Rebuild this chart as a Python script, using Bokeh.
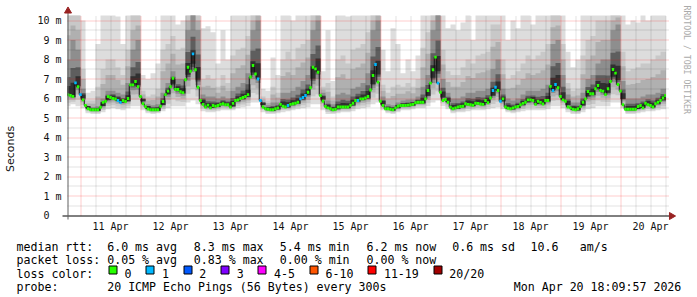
import math
import numpy as np
from bokeh.plotting import figure
from bokeh.models import Range1d, FixedTicker
from bokeh.core.properties import value
from bokeh.embed import file_html
from bokeh.resources import INLINE

# ---------------- data ----------------
# time in hours after 10 Apr 00:00
graph_start_h = 18.8
graph_end_h = 258.15

day_label_hours = [36, 60, 84, 108, 132, 156, 180, 204, 228, 252]
day_labels = ["11 Apr", "12 Apr", "13 Apr", "14 Apr", "15 Apr",
              "16 Apr", "17 Apr", "18 Apr", "19 Apr", "20 Apr"]

y_ticks = [0, 1, 2, 3, 4, 5, 6, 7, 8, 9, 10]
y_tick_labels = ["0\u00a0\u00a0", "1 m", "2 m", "3 m", "4 m", "5 m",
                 "6 m", "7 m", "8 m", "9 m", "10 m"]

# hourly median rtt (ms), hours 19 .. 258
median_hours = list(range(19, 259))
median_ms = [
    6.2, 6.15, 6.1, 6.8, 6.6,
    6.2, 5.93, 5.64, 5.47, 5.42, 5.42, 5.42, 5.42, 5.55, 5.8, 5.86, 6.1,
    6.05, 6.0, 5.97, 5.9, 5.8, 5.9, 5.85, 6.0, 6.7, 6.7, 6.87, 6.6,
    6.1, 5.73, 5.58, 5.46, 5.42, 5.42, 5.42, 5.42, 5.6, 5.85, 6.2, 6.38,
    6.6, 7.04, 6.46, 6.46, 6.35, 6.3, 6.96, 7.6, 7.4, 8.29, 7.47, 6.58,
    5.9, 5.7, 5.56, 5.66, 5.52, 5.64, 5.6, 5.64, 5.7, 5.73, 5.68, 5.68,
    5.56, 5.75, 5.9, 5.93, 6.0, 6.05, 6.1, 6.2, 7.1, 7.69, 7.26, 7.0,
    5.9, 5.56, 5.47, 5.45, 5.42, 5.42, 5.47, 5.52, 5.7, 5.6, 5.56, 5.64,
    5.7, 5.73, 5.76, 5.81, 5.98, 6.05, 6.15, 6.32, 6.55, 7.6, 7.52, 7.35,
    6.15, 5.86, 5.59, 5.52, 5.47, 5.42, 5.45, 5.56, 5.56, 5.56, 5.56, 5.56,
    5.65, 5.76, 5.9, 5.9, 5.98, 5.98, 6.03, 6.1, 6.44, 7.18, 7.74, 6.84,
    5.86, 5.64, 5.47, 5.47, 5.45, 5.42, 5.52, 5.6, 5.64, 5.64, 5.64, 5.66,
    5.68, 5.7, 5.78, 5.81, 5.81, 5.81, 5.98, 6.41, 6.79, 7.47, 8.12, 6.79,
    6.32, 5.9, 5.95, 5.81, 5.55, 5.47, 5.52, 5.56, 5.59, 5.6, 5.73, 5.7,
    5.68, 5.65, 5.76, 5.75, 5.72, 5.7, 5.9, 5.78, 6.03, 6.41, 6.58, 6.41,
    5.86, 5.98, 5.56, 5.5, 5.47, 5.52, 5.56, 5.59, 5.68, 5.75, 5.81, 5.93,
    5.93, 5.9, 5.7, 5.86, 5.8, 5.72, 5.9, 5.9, 6.62, 6.41, 6.72, 6.55,
    6.1, 5.93, 5.86, 5.56, 5.52, 5.45, 5.42, 5.47, 5.59, 5.81, 5.98, 6.36,
    6.24, 6.24, 6.5, 6.67, 6.41, 6.38, 6.2, 6.5, 6.87, 7.49, 7.3, 6.72,
    6.38, 5.68, 5.45, 5.45, 5.45, 5.45, 5.45, 5.59, 5.64, 5.52, 5.76, 5.68,
    5.64, 5.56, 5.73, 5.81, 5.9, 6.03, 6.15,
]
# hours where 1 of 20 pings was lost
loss_1_hours = [22, 24, 39, 40, 69, 95, 96, 107, 112, 113, 114, 135, 142,
                167, 189, 190, 192, 213, 214]

# smoke (ping spread) in 2-hour steps starting at hour 18
smoke_start_h = list(range(18, 257, 2))
smoke_min_ms = [
    5.6, 5.7, 5.6,
    5.5, 5.25, 5.2, 5.2, 5.3, 5.45, 5.5, 5.45, 5.4, 5.5, 5.6, 5.6,
    5.4, 5.25, 5.2, 5.25, 5.35, 5.5, 5.6, 5.6, 5.6, 5.8, 5.9, 5.7,
    5.35, 5.3, 5.3, 5.35, 5.4, 5.4, 5.4, 5.5, 5.55, 5.6, 5.8, 5.8,
    5.3, 5.2, 5.2, 5.25, 5.3, 5.35, 5.4, 5.45, 5.5, 5.55, 5.7, 5.7,
    5.4, 5.2, 5.2, 5.25, 5.3, 5.3, 5.35, 5.45, 5.5, 5.55, 5.7, 5.8,
    5.4, 5.25, 5.2, 5.3, 5.4, 5.4, 5.45, 5.5, 5.5, 5.6, 5.8, 5.9,
    5.6, 5.45, 5.25, 5.3, 5.3, 5.35, 5.4, 5.4, 5.4, 5.45, 5.5, 5.55,
    5.45, 5.3, 5.25, 5.3, 5.35, 5.4, 5.4, 5.4, 5.4, 5.45, 5.6, 5.6,
    5.5, 5.3, 5.2, 5.2, 5.3, 5.45, 5.5, 5.6, 5.6, 5.6, 5.8, 5.8,
    5.5, 5.2, 5.2, 5.25, 5.3, 5.35, 5.35, 5.4, 5.45,
]
smoke_core_ms = [
    8.0, 9.0, 8.5,
    6.5, 5.6, 5.55, 5.6, 6.0, 6.4, 6.4, 6.3, 6.2, 6.8, 8.5, 9.0,
    6.0, 5.7, 5.65, 5.7, 6.3, 6.8, 7.4, 7.0, 7.0, 9.5, 10.5, 9.5,
    6.2, 6.1, 6.1, 6.0, 6.1, 6.0, 6.4, 6.6, 6.8, 7.3, 9.5, 10.0,
    5.8, 5.65, 5.8, 5.8, 6.3, 6.3, 6.4, 6.6, 6.9, 7.2, 9.5, 10.0,
    6.3, 5.9, 5.7, 6.2, 6.3, 6.2, 6.5, 6.6, 6.8, 7.3, 9.5, 10.0,
    6.1, 5.7, 5.65, 5.8, 5.9, 5.95, 5.95, 6.1, 6.6, 7.2, 9.5, 10.5,
    7.0, 6.3, 6.0, 6.0, 6.1, 6.3, 6.3, 6.4, 6.4, 6.5, 7.5, 8.0,
    6.5, 6.0, 5.9, 6.0, 6.2, 6.4, 6.4, 6.4, 6.5, 6.7, 8.8, 9.0,
    7.2, 6.2, 5.8, 5.8, 6.3, 7.0, 7.2, 7.8, 8.0, 8.0, 9.5, 9.8,
    6.9, 6.0, 6.0, 6.0, 6.1, 6.2, 6.2, 6.3, 6.5,
]
smoke_mid_ms = [
    10.5, 10.5, 10.5,
    7.5, 5.9, 5.9, 6.6, 7.5, 8.0, 8.0, 7.6, 7.2, 8.5, 10.5, 10.5,
    6.4, 6.1, 6.2, 6.5, 8.5, 8.8, 9.2, 8.5, 8.6, 10.5, 10.5, 10.5,
    7.0, 7.2, 7.0, 6.6, 7.2, 6.8, 8.2, 8.5, 8.6, 9.2, 10.5, 10.5,
    6.1, 5.9, 6.6, 6.3, 8.0, 8.4, 8.0, 8.6, 8.8, 9.0, 10.5, 10.5,
    6.6, 6.8, 6.1, 8.0, 8.2, 7.8, 8.5, 8.6, 8.8, 9.4, 10.5, 10.5,
    6.7, 6.3, 6.6, 6.7, 6.6, 6.8, 6.6, 7.0, 8.6, 9.4, 10.5, 10.5,
    8.5, 7.4, 7.2, 7.2, 7.6, 8.0, 7.8, 8.2, 8.3, 8.4, 9.8, 9.8,
    8.0, 7.0, 7.2, 7.4, 7.8, 8.2, 8.0, 8.2, 8.4, 8.8, 10.5, 10.5,
    8.8, 6.8, 6.4, 6.5, 8.2, 9.0, 9.2, 10.0, 10.0, 10.0, 10.5, 10.5,
    8.4, 7.4, 7.5, 7.6, 7.8, 7.8, 8.0, 8.2, 8.4,
]
smoke_max_ms = [
    10.5, 10.5, 10.5,
    10.0, 6.3, 6.4, 8.8, 10.5, 10.5, 10.5, 10.2, 8.8, 10.5, 10.5, 10.5,
    7.2, 7.0, 7.3, 7.8, 10.5, 10.5, 10.5, 9.8, 10.0, 10.5, 10.5, 10.5,
    9.6, 9.7, 9.4, 7.8, 9.5, 8.0, 10.5, 10.5, 10.5, 10.5, 10.5, 10.5,
    6.5, 6.4, 8.1, 7.2, 10.5, 10.5, 10.0, 10.5, 10.5, 10.5, 10.5, 10.5,
    7.4, 9.5, 6.9, 10.5, 10.5, 10.2, 10.5, 10.5, 10.5, 10.5, 10.5, 10.5,
    8.5, 7.4, 9.6, 8.8, 7.3, 8.0, 7.4, 8.2, 10.5, 10.5, 10.5, 10.5,
    10.5, 9.6, 9.8, 9.5, 9.9, 10.5, 9.0, 10.5, 10.5, 10.5, 10.5, 10.5,
    10.5, 9.0, 10.0, 9.6, 10.5, 10.5, 9.8, 10.5, 10.5, 10.5, 10.5, 10.5,
    10.5, 8.4, 7.6, 8.0, 10.5, 10.5, 10.5, 10.5, 10.5, 10.5, 10.5, 10.5,
    10.5, 9.8, 10.0, 9.9, 10.5, 10.0, 10.5, 10.5, 10.5,
]

loss_labels = ["0", "1", "2", "3", "4-5", "6-10", "11-19", "20/20"]
loss_colors = ["#26ff00", "#00b8ff", "#0059ff", "#7e00ff",
               "#ff00ff", "#ff5500", "#ff0000", "#a10000"]

rtt_line = ["median rtt:", "6.0 ms avg", "8.3 ms max", "5.4 ms min",
            "6.2 ms now", "0.6 ms sd", "10.6", "am/s"]
loss_line = ["packet loss:", "0.05 % avg", "0.83 % max", "0.00 % min", "0.00 % now"]
probe_line = ["probe:", "20 ICMP Echo Pings (56 Bytes) every 300s",
              "Mon Apr 20 18:09:57 2026"]
loss_title = "loss color:"
credit = "RRDTOOL / TOBI OETIKER"

# ---------------- layout helpers ----------------
W, H = 697, 297
PXH = 2.5      # px per hour  (10 Apr 00:00 sits at px 20)
PXV = 19.5     # px per ms    (0 ms sits at py 215)


def dx(px):
    return (px - 20) / PXH


def dy(py):
    return (215 - py) / PXV


def snap_x(t):
    return dx(math.floor(20 + PXH * t) + 0.5)


def snap_y(v):
    return dy(math.floor(215 - PXV * v) + 0.5)


TOP_V = dy(15)
GRID_END = dx(668)
MONO = "DejaVu Sans Mono"

p = figure(width=W, height=H, output_backend="svg", toolbar_location=None,
           x_range=Range1d(dx(0), dx(W)), y_range=Range1d(dy(H), dy(0)),
           min_border_left=0, min_border_right=0,
           min_border_top=0, min_border_bottom=0)
p.background_fill_color = "white"
p.border_fill_color = "white"
p.outline_line_color = None
p.xgrid.visible = False
p.ygrid.visible = False

# ---------------- smoke ----------------
h = np.array(median_hours, float)
med = np.array(median_ms)
s = np.array(smoke_start_h, float)
sl = np.maximum(s, graph_start_h)
sr = np.where(s + 2 >= 258, graph_end_h, s + 2)
lo = np.array(smoke_min_ms)
core = np.array(smoke_core_ms)
mid = np.array(smoke_mid_ms)
mx = np.array(smoke_max_ms)
med2 = np.array([med[(h >= a) & (h < a + 2)].mean() for a in s])
d = med2 - lo

bands = [
    (lo, mx, "#dddddd"),
    (lo + 0.3 * d, mid, "#c8c8c8"),
    (lo + 0.55 * d, (core + mid) / 2, "#b0b0b0"),
    (lo + 0.75 * d, core, "#8e8e8e"),
    (lo + 0.88 * d, med2 + 0.5 * (core - med2), "#5e5e5e"),
    (med2 - 0.06, med2 + 0.22 * (core - med2) + 0.05, "#303030"),
]
xs_step = np.column_stack([sl, sr]).ravel()
for bot, top, col in bands:
    top = np.minimum(top, TOP_V)
    yt = np.repeat(top, 2)
    yb = np.repeat(bot, 2)
    p.patch(np.concatenate([xs_step, xs_step[::-1]]),
            np.concatenate([yt, yb[::-1]]),
            fill_color=col, line_color=None)

# ---------------- grid ----------------
minor_y = [snap_y(v + 0.5) for v in range(0, 10)]
major_y = [snap_y(v) for v in range(1, 11)]
p.segment(x0=[graph_start_h] * len(minor_y), y0=minor_y, x1=[GRID_END] * len(minor_y), y1=minor_y,
          line_color="#000000", line_alpha=0.22, line_dash="1 1", line_width=1)
p.segment(x0=[graph_start_h] * len(major_y), y0=major_y, x1=[GRID_END] * len(major_y), y1=major_y,
          line_color="#ff0000", line_alpha=0.4, line_dash="1 1", line_width=1)
vt = list(range(24, 259, 6))
minor_x = [snap_x(t) for t in vt if t % 24]
major_x = [snap_x(t) for t in vt if t % 24 == 0]
p.segment(x0=minor_x, y0=[0] * len(minor_x), x1=minor_x, y1=[TOP_V] * len(minor_x),
          line_color="#000000", line_alpha=0.22, line_dash="1 1", line_width=1)
p.segment(x0=major_x, y0=[0] * len(major_x), x1=major_x, y1=[TOP_V] * len(major_x),
          line_color="#ff0000", line_alpha=0.4, line_dash="1 1", line_width=1)

# ---------------- median ----------------
hl = np.maximum(h - 0.5, graph_start_h)
hr = np.minimum(h + 0.5, graph_end_h)
p.line(np.column_stack([hl, hr]).ravel(), np.repeat(med, 2), line_color="#111111", line_width=1)
loss = np.zeros(len(h), int)
for lh in loss_1_hours:
    loss[h == lh] = 1
bar_cols = [loss_colors[k] for k in loss]
p.quad(left=hl, right=hr, bottom=med - 0.075, top=med + 0.075,
       fill_color=bar_cols, line_color=None)

# ---------------- axes ----------------
p.segment(x0=[dx(62)], y0=[snap_y(0)], x1=[dx(669)], y1=[snap_y(0)],
          line_color="#000000", line_width=1)
p.segment(x0=[dx(67.5)], y0=[dy(219)], x1=[dx(67.5)], y1=[dy(12)],
          line_color="#606060", line_width=1)
p.scatter(x=[dx(67.5)], y=[dy(10.5)], marker="triangle", size=7,
          fill_color="#992222", line_color="#992222")
p.scatter(x=[dx(671)], y=[snap_y(0)], marker="triangle", size=7, angle=-math.pi / 2,
          fill_color="#992222", line_color="#992222")

xa = p.xaxis[0]
xa.fixed_location = 0
xa.ticker = FixedTicker(ticks=day_label_hours)
xa.major_label_overrides = {t: l for t, l in zip(day_label_hours, day_labels)}
xa.axis_line_color = None
xa.major_tick_in = 0
xa.major_tick_out = 0
xa.minor_tick_in = 0
xa.minor_tick_out = 0
xa.major_label_standoff = 5
xa.major_label_text_font = MONO
xa.major_label_text_font_size = "10px"
xa.major_label_text_color = "#111111"

ya = p.yaxis[0]
ya.fixed_location = graph_start_h
ya.ticker = FixedTicker(ticks=y_ticks)
ya.major_label_overrides = {t: l for t, l in zip(y_ticks, y_tick_labels)}
ya.axis_line_color = None
ya.major_tick_in = 0
ya.major_tick_out = 0
ya.minor_tick_in = 0
ya.minor_tick_out = 0
ya.major_label_standoff = 6
ya.major_label_text_font = MONO
ya.major_label_text_font_size = "10px"
ya.major_label_text_color = "#111111"
ya.axis_label = "Seconds"
ya.axis_label_text_font = "DejaVu Sans"
ya.axis_label_text_font_style = "normal"
ya.axis_label_text_font_size = "11px"
ya.axis_label_text_color = "#111111"
ya.axis_label_standoff = 17

# credit text on the right side
p.text(x=[dx(686)], y=[dy(5)], text=[credit], angle=-math.pi / 2,
       text_font=value(MONO), text_font_size=value("8.2px"), text_color="#aaaaaa",
       text_align="left", text_baseline="middle")

# ---------------- legend block below ----------------
rtt_x = [16, 106.7, 193.3, 279.3, 366, 451.7, 530, 579.3]
probe_x = [16, 106.7, 513.3]
tx, ty, tt = [], [], []
for txt, px in zip(rtt_line, rtt_x):
    tx.append(px); ty.append(246); tt.append(txt)
for txt, px in zip(loss_line, rtt_x):
    tx.append(px); ty.append(259.5); tt.append(txt)
tx.append(16); ty.append(273.3); tt.append(loss_title)
for txt, px in zip(probe_line, probe_x):
    tx.append(px); ty.append(286.7); tt.append(txt)

bl, br = [], []
bx = 108.3
for lab in loss_labels:
    left = math.floor(bx) + 0.5
    bl.append(dx(left))
    br.append(dx(left + 8))
    tx.append(bx + 15.7); ty.append(273.3); tt.append(lab)
    bx += 30.4 + 7 * len(lab)

p.quad(left=bl, right=br, top=[dy(265.5)] * len(bl), bottom=[dy(273.5)] * len(bl),
       fill_color=loss_colors, line_color="#000000", line_width=1)
p.text(x=[dx(v) for v in tx], y=[dy(v) for v in ty], text=tt,
       text_font=value(MONO), text_font_size=value("11.6px"),
       text_color="#000000", text_align="left", text_baseline="alphabetic")

open("out.html", "w").write(file_html(p, INLINE))
